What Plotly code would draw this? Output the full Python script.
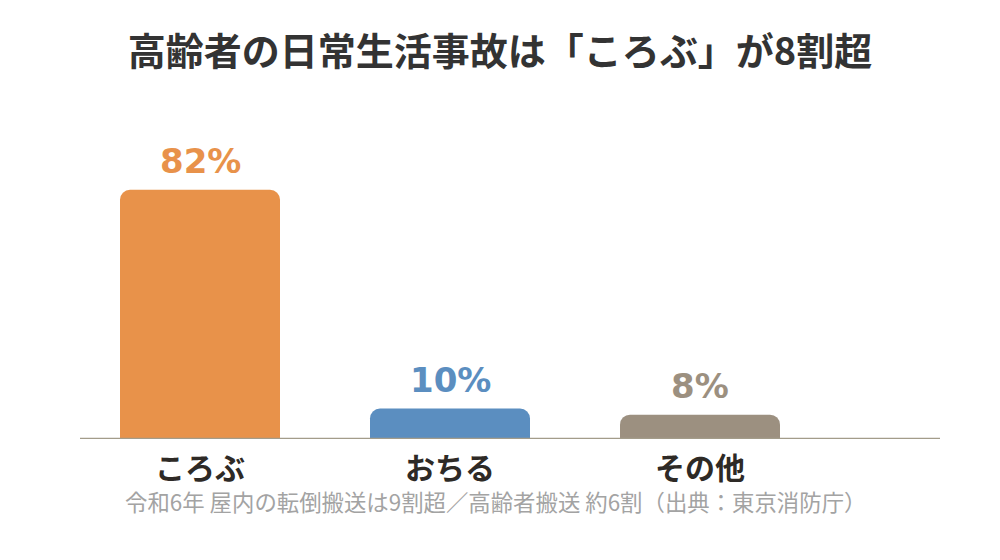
import plotly.graph_objects as go

categories = ["ころぶ", "おちる", "その他"]
values = [82, 10, 8]
value_labels = ["82%", "10%", "8%"]
colors = ["#E8924A", "#5B8EC0", "#9C9080"]

title_text = "高齢者の日常生活事故は「ころぶ」が8割超"
note_text = "令和6年 屋内の転倒搬送は9割超／高齢者搬送 約6割（出典：東京消防庁）"

x = list(range(len(categories)))

fig = go.Figure()
fig.add_trace(go.Bar(
    x=x, y=values,
    marker=dict(color=colors, line=dict(width=0), cornerradius=10),
    width=0.64,
    hoverinfo="skip",
))

for xi, v, lab, c in zip(x, values, value_labels, colors):
    fig.add_annotation(
        x=xi, y=v, text=lab, showarrow=False,
        yanchor="bottom", yshift=7,
        font=dict(family="DejaVu Sans", size=34, color=c, weight="bold"),
    )

fig.add_annotation(
    text=note_text, xref="paper", yref="paper", x=0.483, y=-0.205,
    xanchor="center", yanchor="middle", showarrow=False,
    font=dict(family="Noto Sans CJK JP", size=22.4, color="#A3A3A3"),
)

fig.update_layout(
    width=1000, height=560,
    margin=dict(l=80, r=60, t=135, b=121),
    paper_bgcolor="white", plot_bgcolor="white",
    showlegend=False,
    title=dict(
        text=title_text, x=0.5, xanchor="center", y=0.907, yanchor="middle",
        font=dict(family="Noto Sans CJK JP", size=38, color="#333333", weight="bold"),
    ),
    xaxis=dict(
        range=[-0.48, 2.96], tickmode="array", tickvals=x, ticktext=categories,
        showgrid=False, zeroline=False, showline=False, ticks="",
        ticklabelstandoff=9,
        tickfont=dict(family="Noto Sans CJK JP", size=30, color="#2E2A26", weight="bold"),
    ),
    yaxis=dict(
        range=[0, 100], visible=False, showgrid=False, zeroline=True,
    ),
    shapes=[dict(type="line", xref="paper", yref="y", x0=0, x1=1, y0=0, y1=0,
                 line=dict(color="#A39C8A", width=2.5), layer="above")],
)

fig.write_html("out.html")
